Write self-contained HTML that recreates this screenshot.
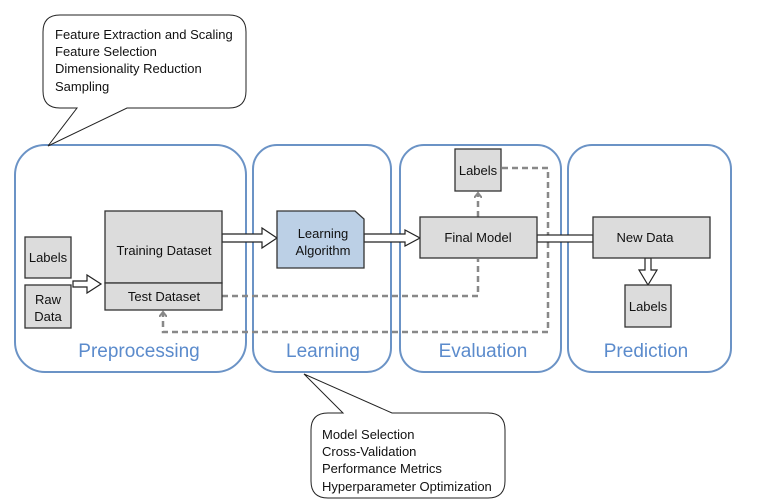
<!DOCTYPE html>
<html><head><style>body{margin:0;background:#fff}svg{display:block}text{font-family:"Liberation Sans",sans-serif}</style></head><body>
<svg width="758" height="503" xmlns="http://www.w3.org/2000/svg">
<defs>
<marker id="ah" markerWidth="8" markerHeight="8" refX="4" refY="4" orient="auto" markerUnits="userSpaceOnUse"><path d="M0,0 L5,4 L0,8" fill="none" stroke="#888" stroke-width="2"/></marker>
</defs>
<g fill="none" stroke="#6b93c6" stroke-width="2">
<rect x="15" y="145" width="231" height="227" rx="30"/>
<rect x="253" y="145" width="138" height="227" rx="24"/>
<rect x="400" y="145" width="161" height="227" rx="24"/>
<rect x="568" y="145" width="163" height="227" rx="24"/>
</g>
<g font-size="19" fill="#5b8bcc" text-anchor="middle">
<text x="139" y="357">Preprocessing</text>
<text x="323" y="357">Learning</text>
<text x="483" y="357">Evaluation</text>
<text x="646" y="357">Prediction</text>
</g>
<g fill="none" stroke="#888" stroke-width="2.5" stroke-dasharray="6,4">
<polyline points="222,296 478,296 478,259"/>
<polyline points="478,217 478,194" marker-end="url(#ah)"/>
<polyline points="502,168 548,168 548,332 163,332 163,313" marker-end="url(#ah)"/>
</g>
<g fill="#fff" stroke="#222" stroke-width="1.2">
<path d="M73,281 H87 V275 L101,284 L87,293 V287 H73 Z"/>
<path d="M222,234 H262 V228 L277,238 L262,248 V242 H222 Z"/>
<path d="M364,234 H405 V230 L420,238 L405,246 V242 H364 Z"/>
<rect x="537" y="235" width="56" height="7"/>
<path d="M645,258 V270 H639 L648,285 L657,270 H651 V258 Z"/>
</g>
<g fill="#dcdcdc" stroke="#333" stroke-width="1.3">
<rect x="25" y="237" width="46" height="41"/>
<rect x="25" y="285" width="46" height="43"/>
<rect x="105" y="211" width="117" height="72"/>
<rect x="105" y="283" width="117" height="27"/>
<rect x="420" y="217" width="117" height="41"/>
<rect x="455" y="149" width="46" height="42"/>
<rect x="593" y="217" width="117" height="41"/>
<rect x="625" y="285" width="46" height="42"/>
<path d="M277,211 H355 L364,219 V268 H277 Z" fill="#bcd0e6"/>
</g>
<g font-size="13" fill="#111" text-anchor="middle">
<text x="48" y="262">Labels</text>
<text x="48" y="304">Raw</text>
<text x="48" y="321">Data</text>
<text x="164" y="255">Training Dataset</text>
<text x="164" y="301">Test Dataset</text>
<text x="323" y="238">Learning</text>
<text x="323" y="255">Algorithm</text>
<text x="478" y="242">Final Model</text>
<text x="478" y="175">Labels</text>
<text x="645" y="242">New Data</text>
<text x="648" y="311">Labels</text>
</g>
<path d="M60,15 H229 Q246,15 246,32 V91 Q246,108 229,108 H127 L48,146 L77,108 H60 Q43,108 43,91 V32 Q43,15 60,15 Z" fill="#fff" stroke="#222" stroke-width="1"/>
<path d="M328,413 H343 L304,374 L392,413 H488 Q505,413 505,430 V481 Q505,498 488,498 H328 Q311,498 311,481 V430 Q311,413 328,413 Z" fill="#fff" stroke="#222" stroke-width="1"/>
<g font-size="13" fill="#111">
<text x="55" y="39">Feature Extraction and Scaling</text>
<text x="55" y="56">Feature Selection</text>
<text x="55" y="73">Dimensionality Reduction</text>
<text x="55" y="91">Sampling</text>
<text x="322" y="439">Model Selection</text>
<text x="322" y="456">Cross-Validation</text>
<text x="322" y="473">Performance Metrics</text>
<text x="322" y="491">Hyperparameter Optimization</text>
</g>
</svg>
</body></html>
